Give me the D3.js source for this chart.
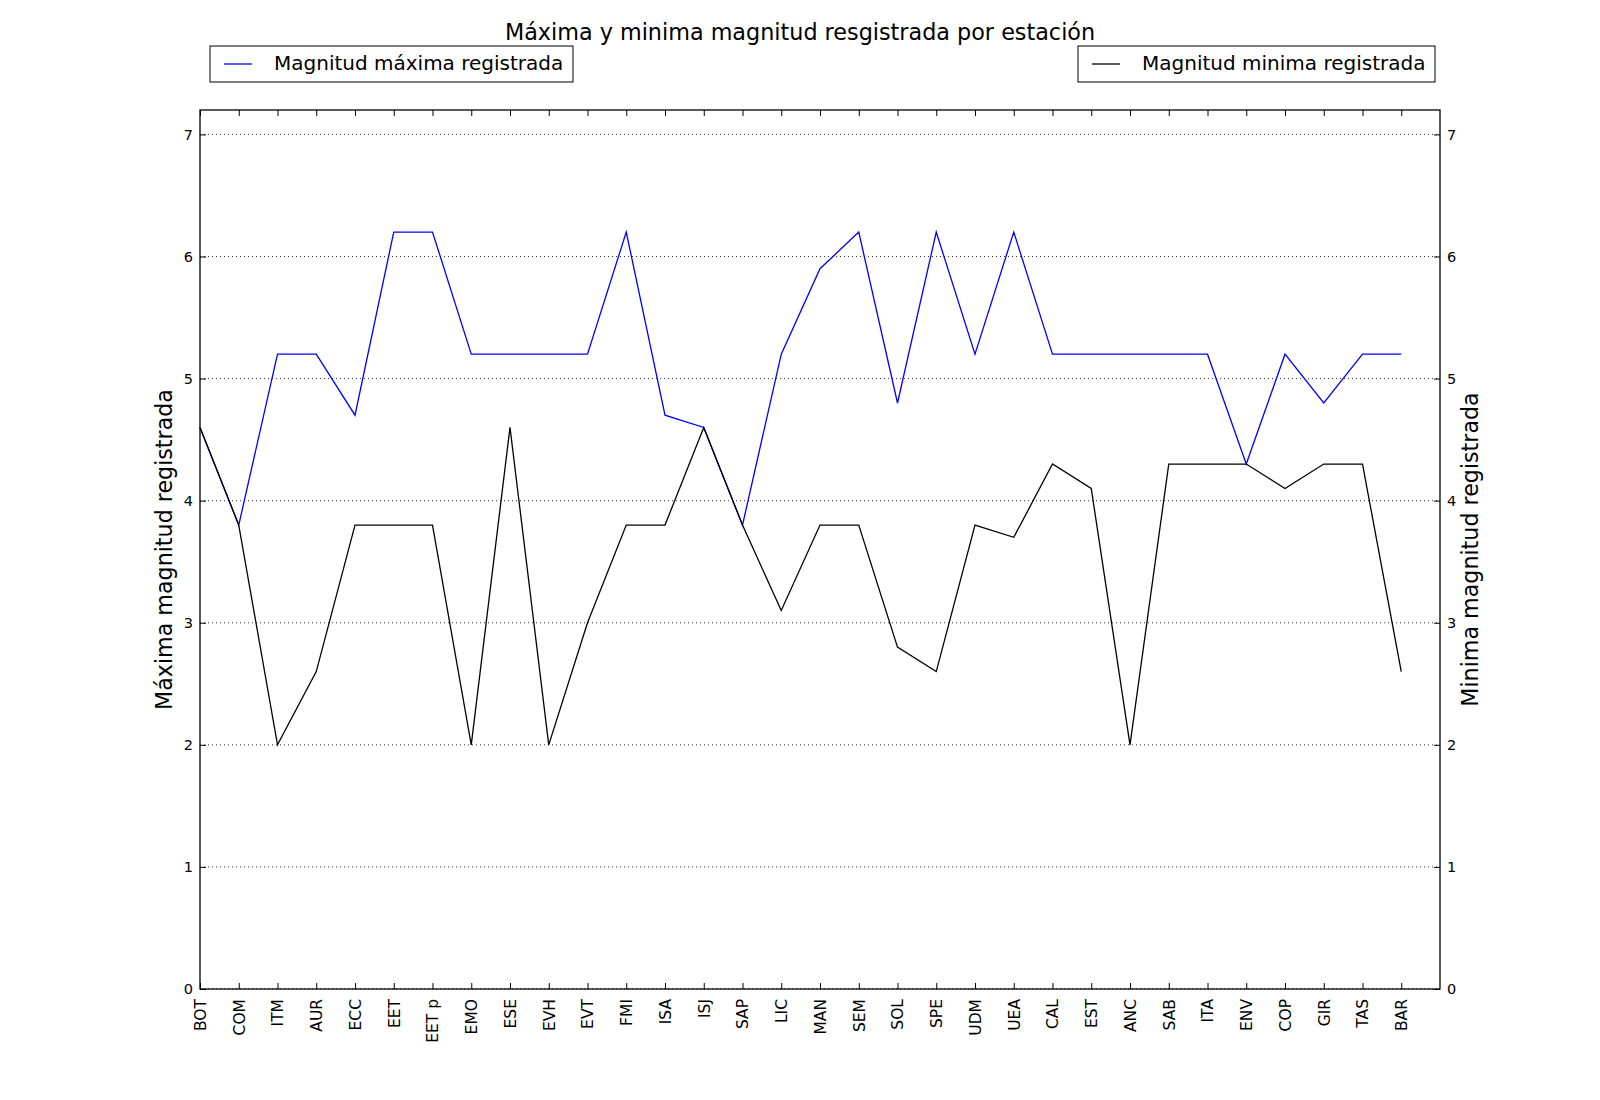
<!DOCTYPE html>
<html><head><meta charset="utf-8">
<script src="https://cdn.jsdelivr.net/npm/d3@7"></script>
<style>body{margin:0;background:#fff;} text{font-family:"DejaVu Sans",sans-serif;}</style>
</head><body>
<svg id="c" width="1600" height="1100"></svg>
<script>
const categories = ["BOT","COM","ITM","AUR","ECC","EET","EET p","EMO","ESE","EVH","EVT","FMI","ISA","ISJ","SAP","LIC","MAN","SEM","SOL","SPE","UDM","UEA","CAL","EST","ANC","SAB","ITA","ENV","COP","GIR","TAS","BAR"];
const maxValues = [4.6,3.8,5.2,5.2,4.7,6.2,6.2,5.2,5.2,5.2,5.2,6.2,4.7,4.6,3.8,5.2,5.9,6.2,4.8,6.2,5.2,6.2,5.2,5.2,5.2,5.2,5.2,4.3,5.2,4.8,5.2,5.2];
const minValues = [4.6,3.8,2.0,2.6,3.8,3.8,3.8,2.0,4.6,2.0,3.0,3.8,3.8,4.6,3.8,3.1,3.8,3.8,2.8,2.6,3.8,3.7,4.3,4.1,2.0,4.3,4.3,4.3,4.1,4.3,4.3,2.6];
const yTicks = [0,1,2,3,4,5,6,7];
const titleText = "Máxima y minima magnitud resgistrada por estación";
const leftLabel = "Máxima magnitud registrada";
const rightLabel = "Minima magnitud registrada";
const legendMax = "Magnitud máxima registrada";
const legendMin = "Magnitud minima registrada";

const svg = d3.select("#c");
const L = 200, R = 1440, T = 110, B = 989;
const x = d3.scaleLinear().domain([0, 32]).range([L, R]);
const y = d3.scaleLinear().domain([0, 7.2]).range([B, T]);

// grid
svg.append("g").selectAll("line").data(yTicks).join("line")
  .attr("x1", L).attr("x2", R).attr("y1", d => y(d)).attr("y2", d => y(d))
  .attr("stroke", "#000").attr("stroke-width", 0.8).attr("stroke-dasharray", "1,3");

const line = d3.line().x((d, i) => x(i)).y(d => y(d));
svg.append("path").datum(maxValues).attr("d", line).attr("fill", "none").attr("stroke", "#0000ff").attr("stroke-width", 1.3);
svg.append("path").datum(minValues).attr("d", line).attr("fill", "none").attr("stroke", "#000").attr("stroke-width", 1.3);

// axes
const tl = 6;
const yl = d3.axisLeft(y).tickValues(yTicks).tickSize(-tl).tickPadding(7).tickFormat(d3.format("d"));
const yr = d3.axisRight(y).tickValues(yTicks).tickSize(-tl).tickPadding(7).tickFormat(d3.format("d"));
const xb = d3.axisBottom(x).tickValues(d3.range(categories.length)).tickSize(-tl).tickFormat(i => categories[i]);
const xt = d3.axisTop(x).tickValues(d3.range(categories.length)).tickSize(-tl).tickFormat("");
function style(fs){ return g => { g.select(".domain").remove(); g.selectAll("line").attr("stroke","#000"); g.selectAll("text").attr("font-family","DejaVu Sans").attr("font-size",fs).attr("fill","#000"); }; }
svg.append("g").attr("transform", `translate(${L},0)`).call(yl).call(style(14.5));
svg.append("g").attr("transform", `translate(${R},0)`).call(yr).call(style(14.5));
const gx = svg.append("g").attr("transform", `translate(0,${B})`).call(xb).call(style(15.5));
gx.selectAll("text").attr("transform", "rotate(-90)").attr("text-anchor", "end").attr("dy", "0.35em").attr("x", -10).attr("y", 0);
svg.append("g").attr("transform", `translate(0,${T})`).call(xt).call(style(15.5));
svg.append("rect").attr("x", L).attr("y", T).attr("width", R - L).attr("height", B - T).attr("fill", "none").attr("stroke", "#000").attr("stroke-width", 1.3);

// title and labels
svg.append("text").attr("x", 800).attr("y", 40).attr("text-anchor", "middle").attr("font-size", 22.3).text(titleText);
svg.append("text").attr("transform", `translate(172,${(T+B)/2}) rotate(-90)`).attr("text-anchor", "middle").attr("font-size", 22.2).text(leftLabel);
svg.append("text").attr("transform", `translate(1478,${(T+B)/2}) rotate(-90)`).attr("text-anchor", "middle").attr("font-size", 22.2).text(rightLabel);

// legends
function legend(x0, x1, color, label){
  const g = svg.append("g");
  g.append("rect").attr("x", x0).attr("y", 46).attr("width", x1 - x0).attr("height", 36).attr("fill", "#fff").attr("stroke", "#000").attr("stroke-width", 1);
  g.append("line").attr("x1", x0 + 14).attr("x2", x0 + 42).attr("y1", 64).attr("y2", 64).attr("stroke", color).attr("stroke-width", 1.3);
  g.append("text").attr("x", x0 + 64).attr("y", 70).attr("font-size", 20).text(label);
}
legend(210, 573, "#0000ff", legendMax);
legend(1078, 1435, "#000", legendMin);
</script>
</body></html>
